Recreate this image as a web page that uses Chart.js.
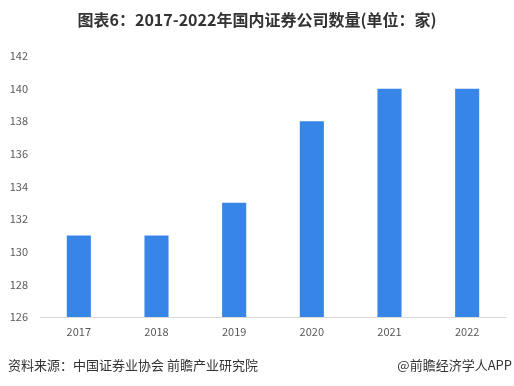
<!DOCTYPE html>
<html>
<head>
<meta charset="utf-8">
<script src="https://cdn.jsdelivr.net/npm/chart.js@4/dist/chart.umd.min.js"></script>
<style>
  html, body { margin: 0; padding: 0; background: #fff; }
  #wrap { width: 514px; height: 386px; position: relative; }
</style>
</head>
<body>
<div id="wrap"><canvas id="grafico"></canvas></div>
<script>
const anos = ['2017', '2018', '2019', '2020', '2021', '2022'];
const qtdEmpresas = [131, 131, 133, 138, 140, 140];
const yMin = 126;
const yMax = 142;
const yPasso = 2;

const titulo = '图表6：2017-2022年国内证券公司数量(单位：家)';
const fonte = '资料来源：中国证券业协会 前瞻产业研究院';
const marca = '@前瞻经济学人APP';

const fontePadrao = '"Noto Sans CJK SC", "Noto Sans", sans-serif';

// titulo e rodape desenhados direto no canvas
const textosExtras = {
  id: 'textosExtras',
  afterDraw(chart) {
    const c = chart.ctx;
    c.save();
    c.fillStyle = '#333333';
    c.font = 'bold 16px ' + fontePadrao;
    c.textAlign = 'center';
    c.textBaseline = 'middle';
    c.fillText(titulo, 257, 20);

    c.font = '13px ' + fontePadrao;
    c.textAlign = 'left';
    c.fillText(fonte, 8, 365);
    c.textAlign = 'right';
    c.fillText(marca, 512, 365);
    c.restore();
  }
};

new Chart(document.getElementById('grafico'), {
  type: 'bar',
  data: {
    labels: anos,
    datasets: [{
      data: qtdEmpresas,
      backgroundColor: '#3785e6',
      borderWidth: 0,
      categoryPercentage: 1,
      barPercentage: 0.31
    }]
  },
  options: {
    responsive: true,
    maintainAspectRatio: false,
    animation: false,
    layout: {
      padding: { top: 56, bottom: 39, left: 0, right: 8 }
    },
    plugins: {
      legend: { display: false },
      tooltip: { enabled: false }
    },
    scales: {
      x: {
        grid: { display: false, drawTicks: false },
        border: { display: true, color: '#d9d9d9', width: 1 },
        ticks: {
          color: '#595959',
          padding: 8,
          font: { size: 11, family: fontePadrao }
        },
        afterFit(scale) { scale.height = 30; }
      },
      y: {
        min: yMin,
        max: yMax,
        grid: { display: false, drawTicks: false },
        border: { display: false },
        ticks: {
          stepSize: yPasso,
          color: '#595959',
          padding: 12,
          font: { size: 11, family: fontePadrao }
        },
        afterFit(scale) { scale.width = 40; }
      }
    }
  },
  plugins: [textosExtras]
});
</script>
</body>
</html>
